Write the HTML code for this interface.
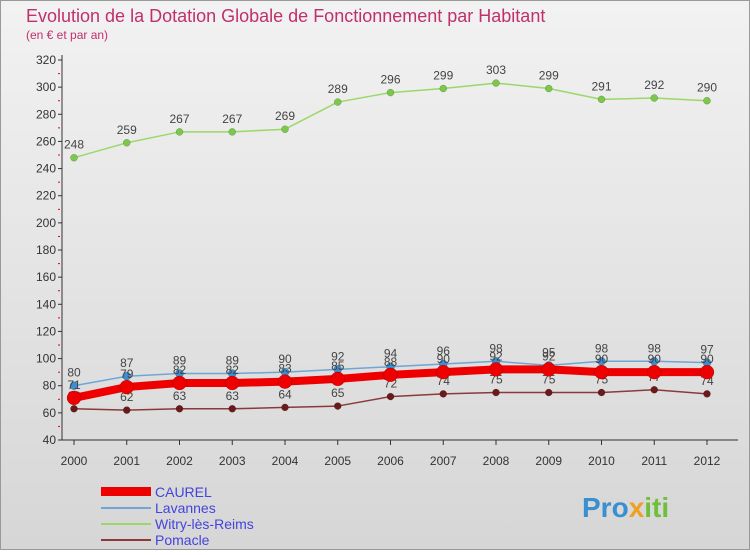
<!DOCTYPE html>
<html><head><meta charset="utf-8"><style>
body{margin:0;width:750px;height:550px;overflow:hidden;font-family:"Liberation Sans",sans-serif}
</style></head><body>
<svg id="c" width="750" height="550" xmlns="http://www.w3.org/2000/svg">
<defs><linearGradient id="bg" x1="0" y1="0" x2="0" y2="1"><stop offset="0" stop-color="#f2f2f2"/><stop offset="1" stop-color="#d6d6d6"/></linearGradient></defs>
<rect x="0.5" y="0.5" width="749" height="549" fill="url(#bg)" stroke="#999"/>
<text x="26" y="22" font-size="18" fill="#c0306b">Evolution de la Dotation Globale de Fonctionnement par Habitant</text>
<text x="26" y="39" font-size="12" fill="#c0306b">(en € et par an)</text>
<g id="axes"></g><g id="series"></g>
<g>
<rect x="101" y="487" width="50" height="9" fill="#ee0000"/>
<text x="155" y="497" font-size="14" fill="#4444dd">CAUREL</text>
<line x1="101" y1="508" x2="151" y2="508" stroke="#6fa6d6" stroke-width="2"/>
<text x="155" y="513" font-size="14" fill="#4444dd">Lavannes</text>
<line x1="101" y1="524" x2="151" y2="524" stroke="#9ad86a" stroke-width="2"/>
<text x="155" y="529" font-size="14" fill="#4444dd">Witry-lès-Reims</text>
<line x1="101" y1="540" x2="151" y2="540" stroke="#8b3a3a" stroke-width="2"/>
<text x="155" y="545" font-size="14" fill="#4444dd">Pomacle</text>
</g>
<text x="582" y="517" font-size="28" font-weight="bold" fill="#3a8fd0">Pro<tspan fill="#f0a020">x</tspan><tspan fill="#6fbf3a">iti</tspan></text>
</svg>
<script>
const years=["2000","2001","2002","2003","2004","2005","2006","2007","2008","2009","2010","2011","2012"];
const yTicks=[40,60,80,100,120,140,160,180,200,220,240,260,280,300,320];
const caurel=[71,79,82,82,83,85,88,90,92,92,90,90,90];
const lavannes=[80,87,89,89,90,92,94,96,98,95,98,98,97];
const witry=[248,259,267,267,269,289,296,299,303,299,291,292,290];
const pomacle=[63,62,63,63,64,65,72,74,75,75,75,77,74];
const NS="http://www.w3.org/2000/svg";
const X=i=>74+i*52.75, Y=v=>440-(v-40)*380/280;
function mk(t,a,p){const e=document.createElementNS(NS,t);for(const k in a)e.setAttribute(k,a[k]);p.appendChild(e);return e;}
const ax=document.getElementById('axes'), sg=document.getElementById('series');
mk('line',{x1:62,y1:55,x2:62,y2:440,stroke:'#333'},ax);
mk('line',{x1:62,y1:440,x2:738,y2:440,stroke:'#333'},ax);
yTicks.forEach(v=>{const y=Y(v);
 const l=mk('line',{x1:58,y1:y,x2:62,y2:y,stroke:'#333'},ax);
 
 if(v>40) mk('line',{x1:58,y1:y+13.6,x2:60,y2:y+13.6,stroke:'#e00'},ax);
 const t=mk('text',{x:56,y:y+4,'font-size':12,'text-anchor':'end',fill:'#333'},ax);t.textContent=v;
 });
years.forEach((yr,i)=>{const x=X(i);
 mk('line',{x1:x,y1:440,x2:x,y2:445,stroke:'#333'},ax);
 const t=mk('text',{x:x,y:465,'font-size':12,'text-anchor':'middle',fill:'#333'},ax);t.textContent=yr;
 });
function series(d,name,col,w,r,dot){
 const g=mk('g',{},sg);
 mk('polyline',{points:d.map((v,i)=>X(i)+','+Y(v)).join(' '),fill:'none',stroke:col,'stroke-width':w,'stroke-linejoin':'round'},g);
 d.forEach((v,i)=>{const c=mk('circle',{cx:X(i),cy:Y(v),r:r,fill:dot,stroke:'rgba(0,0,0,0.3)','stroke-width':0.5},g);
  
  const t=mk('text',{x:X(i),y:Y(v)-9,'font-size':12,'text-anchor':'middle',fill:'#444'},g);t.textContent=v;
  });
}
series(pomacle,'pomacle','#8b3a3a',1.5,3.5,'#6a1a1a');
series(lavannes,'lavannes','#6fa6d6',1.5,4,'#3a8fd0');
series(witry,'witry','#9ad86a',1.5,3.5,'#7cc84a');
series(caurel,'caurel','#ee0000',8,7,'#ee0000');
</script>
</body></html>
